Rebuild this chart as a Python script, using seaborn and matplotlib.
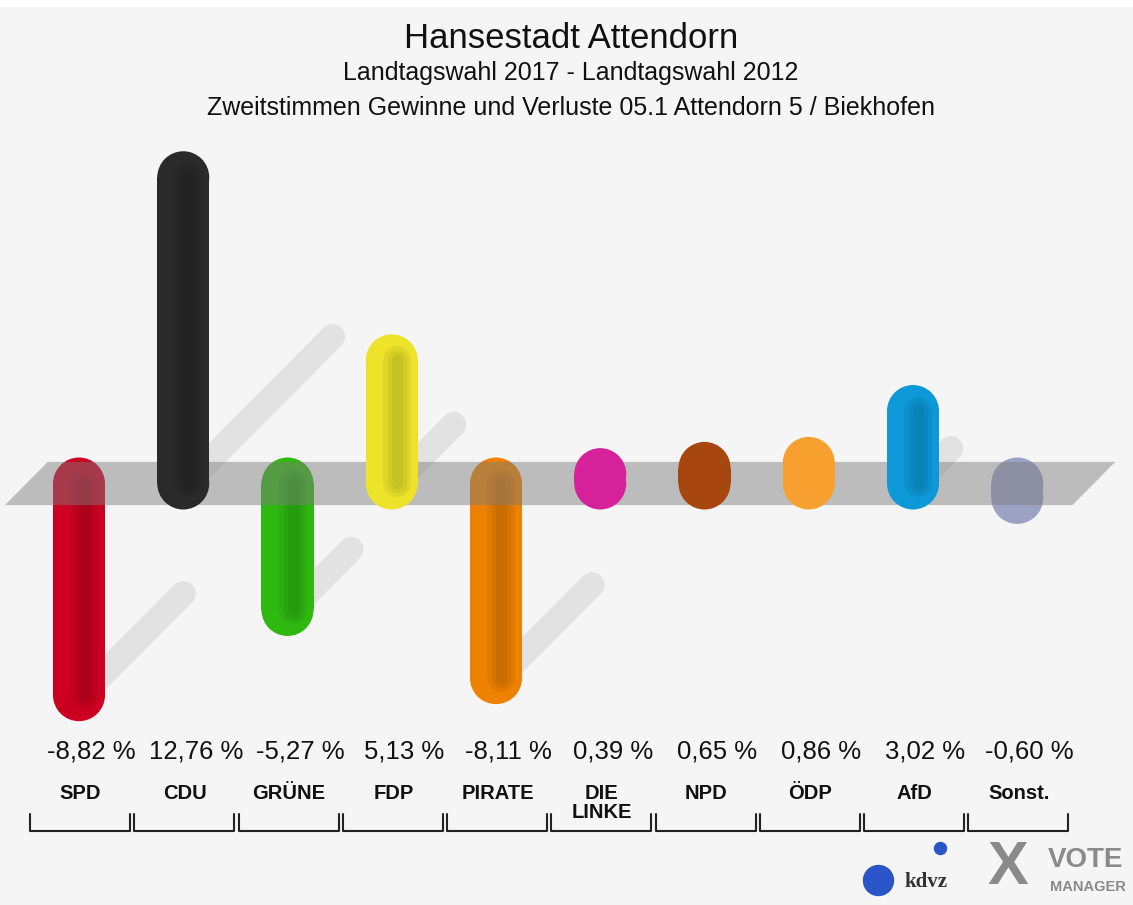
import numpy as np
import matplotlib
matplotlib.use('Agg')
import matplotlib.pyplot as plt
import seaborn as sns
from matplotlib.patches import Polygon, Rectangle

# data
parties = ['SPD', 'CDU', 'GRÜNE', 'FDP', 'PIRATE', 'DIE LINKE', 'NPD', 'ÖDP', 'AfD', 'Sonst.']
tick_labels = ['SPD', 'CDU', 'GRÜNE', 'FDP', 'PIRATE', 'DIE\nLINKE', 'NPD', 'ÖDP', 'AfD', 'Sonst.']
changes = [-8.82, 12.76, -5.27, 5.13, -8.11, 0.39, 0.65, 0.86, 3.02, -0.60]
colors = ['#cc0020', '#2a2a2a', '#2eb810', '#ece32a', '#ee8100',
          '#d5229a', '#a8460f', '#f7a030', '#0d98d8', '#9ca2c4']

sns.set_style('white')
plt.rcParams['font.family'] = ['Liberation Sans', 'DejaVu Sans']

W, H = 1133, 905
x0, y0 = 79, 483.5        # pixel position of first category / zero line
px, py = 104.25, 24.0     # pixels per category / per percent point

fig = plt.figure(figsize=(W / 100, H / 100), dpi=100, facecolor='#f5f5f5')
fig.patches.append(Rectangle((0, 1 - 6 / H), 1, 6 / H, transform=fig.transFigure,
                             color='white', zorder=0))
ax = fig.add_axes([0, 0, 1, 1])

sns.barplot(x=parties, y=changes, hue=parties, order=parties, hue_order=parties,
            palette=dict(zip(parties, colors)), width=0.5, saturation=1,
            legend=False, ax=ax)

bars = sorted(ax.patches, key=lambda p: p.get_x())
cap_s = (52 * 0.72) ** 2
for i, (bar, v, c) in enumerate(zip(bars, changes, colors)):
    z = 4 if v > 0 else 2
    bar.set_zorder(z)
    bar.set_linewidth(0)
    # rounded ends of the cylinder
    ax.scatter([i, i], [0, v], s=cap_s, color=c, edgecolors='none', zorder=z)
    # soft darker band in the middle for a bit of 3d look
    if abs(v) > 1:
        for lw in (20, 14, 8):
            ax.plot([i + 0.05, i + 0.05], [0, v], color='black', alpha=0.05, lw=lw,
                    solid_capstyle='round', zorder=z + 0.1)
    # shadow going up to the right
    a = abs(v)
    lo = min(0, v)
    ax.plot([i + 0.03, i + 0.03 + 0.11 * a], [lo, lo + 0.48 * a], color='#e2e2e2', lw=18,
            solid_capstyle='round', zorder=1)

# grey zero band
band = Polygon([(-0.71, -0.9), (-0.30, 0.9), (9.94, 0.9), (9.53, -0.9)],
               closed=True, facecolor='#7d7d7d', alpha=0.47, lw=0, zorder=3)
ax.add_patch(band)

# value labels, category labels, brackets
yv = (y0 - 752) / py
yc = (y0 - 784) / py
yt, yb = (y0 - 814) / py, (y0 - 831) / py
for i, (lab, v) in enumerate(zip(tick_labels, changes)):
    txt = f'{v:.2f}'.replace('.', ',') + ' %'
    ax.text(i + 0.12, yv, txt, ha='center', va='center', fontsize=18.5, color='#111111')
    ax.text(i + 0.015, yc, lab, ha='center', va='top', fontsize=14.5, color='#111111',
            fontweight='bold', linespacing=1.0)
    ax.plot([i - 0.47, i - 0.47, i + 0.49, i + 0.49], [yt, yb, yb, yt],
            color='#222222', lw=1.5)

ax.set_xlim(-x0 / px, (W - x0) / px)
ax.set_ylim(-(H - y0) / py, y0 / py)
ax.axis('off')

# titles
fig.text(571 / W, 1 - 38 / H, 'Hansestadt Attendorn', ha='center', va='center',
         fontsize=25, color='#111111')
fig.text(571 / W, 1 - 73 / H, 'Landtagswahl 2017 - Landtagswahl 2012', ha='center',
         va='center', fontsize=18, color='#111111')
fig.text(571 / W, 1 - 108 / H, 'Zweitstimmen Gewinne und Verluste 05.1 Attendorn 5 / Biekhofen',
         ha='center', va='center', fontsize=18, color='#111111')

# logo
ax.scatter([(878 - x0) / px], [(y0 - 880) / py], s=(30 * 0.72) ** 2, color='#2a55c8', zorder=5)
ax.scatter([(940 - x0) / px], [(y0 - 848) / py], s=(12 * 0.72) ** 2, color='#2a55c8', zorder=5)
fig.text(926 / W, 1 - 882 / H, 'kdvz', ha='center', va='center', fontsize=15,
         fontweight='bold', family='Liberation Serif', color='#333333')
fig.text(1008 / W, 1 - 868 / H, 'X', ha='center', va='center', fontsize=44,
         fontweight='bold', color='#8a8a8a')
fig.text(1085 / W, 1 - 860 / H, 'VOTE', ha='center', va='center', fontsize=20,
         fontweight='bold', color='#8a8a8a')
fig.text(1088 / W, 1 - 887 / H, 'MANAGER', ha='center', va='center', fontsize=10.5,
         fontweight='bold', color='#8a8a8a')

fig.savefig('out.png', dpi=100, facecolor=fig.get_facecolor())
